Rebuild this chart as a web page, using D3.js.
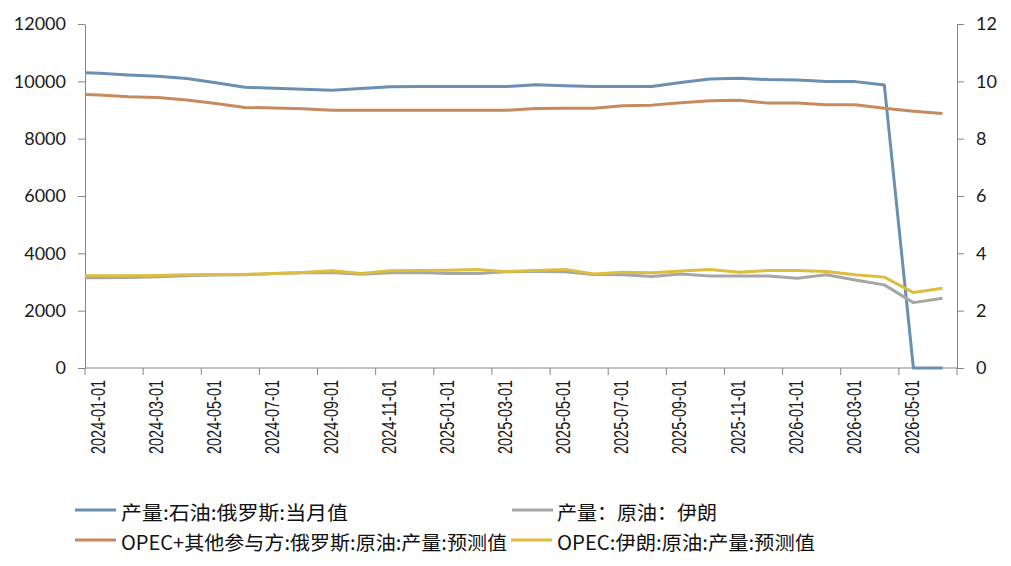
<!DOCTYPE html>
<html>
<head>
<meta charset="utf-8">
<script src="https://cdn.jsdelivr.net/npm/d3@7"></script>
<style>
  html, body { margin: 0; padding: 0; background: #fff; }
  svg { display: block; }
</style>
</head>
<body>
<svg id="chart" width="1011" height="566"></svg>
<script>
// ---- data (2023-12 point lies just left of the plot edge and is clipped) ----
const dates = [
  "2023-12-01",
  "2024-01-01","2024-02-01","2024-03-01","2024-04-01","2024-05-01","2024-06-01",
  "2024-07-01","2024-08-01","2024-09-01","2024-10-01","2024-11-01","2024-12-01",
  "2025-01-01","2025-02-01","2025-03-01","2025-04-01","2025-05-01","2025-06-01",
  "2025-07-01","2025-08-01","2025-09-01","2025-10-01","2025-11-01","2025-12-01",
  "2026-01-01","2026-02-01","2026-03-01","2026-04-01","2026-05-01","2026-06-01"
];
const axisCategories = dates.slice(1);
const tickLabels = axisCategories.filter((d, i) => i % 2 === 0);

const russiaOutput = [10320,
  10280,10220,10180,10100,9950,9790, 9760,9720,9690,9750,9810,9820,
  9820,9820,9820,9880,9850,9820, 9820,9820,9960,10080,10110,10060,
  10050,9990,9990,9870,0,0];
const russiaForecast = [9560,
  9520,9460,9440,9350,9230,9090, 9070,9040,8990,8990,8990,8990,
  8990,8990,8990,9050,9060,9060, 9150,9170,9250,9320,9340,9240,
  9240,9180,9180,9060,8960,8880];
const iranOutput = [3.15,
  3.15,3.16,3.18,3.22,3.24,3.25, 3.30,3.32,3.33,3.27,3.32,3.33,
  3.30,3.30,3.36,3.37,3.36,3.26, 3.25,3.19,3.28,3.21,3.21,3.21,
  3.13,3.25,3.07,2.90,2.28,2.43];
const iranForecast = [3.22,
  3.22,3.22,3.23,3.25,3.26,3.26, 3.30,3.33,3.39,3.30,3.39,3.40,
  3.41,3.44,3.36,3.40,3.44,3.28, 3.34,3.32,3.38,3.44,3.34,3.40,
  3.40,3.37,3.25,3.17,2.63,2.78];

const leftTicks = [0,2000,4000,6000,8000,10000,12000];
const rightTicks = [0,2,4,6,8,10,12];

const seriesNames = [
  "产量:石油:俄罗斯:当月值",
  "产量：原油：伊朗",
  "OPEC+其他参与方:俄罗斯:原油:产量:预测值",
  "OPEC:伊朗:原油:产量:预测值"
];
const colors = ["#6a8fb1", "#a6a6a6", "#c68a5e", "#dcbd3e"];

(function () {
// ---- layout ----
const svg = d3.select("#chart");
const pLeft = 85, pRight = 957, pTop = 24, pBottom = 368;

const band = d3.scaleBand().domain(axisCategories).range([pLeft, pRight]).padding(0);
const step = band.step();
const x = d3.scalePoint().domain(dates).range([pLeft + step/2 - step, pRight - step/2]);
const yL = d3.scaleLinear().domain([0, 12000]).range([pBottom, pTop]);
const yR = d3.scaleLinear().domain([0, 12]).range([pBottom, pTop]);

svg.append("defs").append("clipPath").attr("id", "plotclip")
  .append("rect").attr("x", pLeft).attr("y", 0).attr("width", pRight - pLeft).attr("height", pBottom + 5);

const axisColor = "#868686";
const numFont = "Lato, 'Liberation Sans', sans-serif";

// left axis
const gL = svg.append("g").attr("transform", `translate(${pLeft},0)`)
  .call(d3.axisLeft(yL).tickValues(leftTicks).tickSize(7).tickSizeOuter(0).tickPadding(12).tickFormat(d3.format("d")));
gL.select(".domain").attr("stroke", axisColor);
gL.selectAll(".tick line").attr("stroke", axisColor);
gL.selectAll(".tick text").attr("font-family", numFont).attr("font-size", 18).attr("fill", "#1a1a1a");

// right axis
const gR = svg.append("g").attr("transform", `translate(${pRight},0)`)
  .call(d3.axisRight(yR).tickValues(rightTicks).tickSize(7).tickSizeOuter(0).tickPadding(12).tickFormat(d3.format("d")));
gR.select(".domain").attr("stroke", axisColor);
gR.selectAll(".tick line").attr("stroke", axisColor);
gR.selectAll(".tick text").attr("font-family", numFont).attr("font-size", 18).attr("fill", "#1a1a1a");

// bottom axis: tick marks at every second category boundary
const gB = svg.append("g").attr("transform", `translate(0,${pBottom})`);
gB.append("line").attr("x1", pLeft).attr("x2", pRight).attr("y1", 0).attr("y2", 0).attr("stroke", axisColor);
const boundaryTicks = tickLabels.map(d => band(d)).concat([pRight]);
gB.selectAll("line.tk").data(boundaryTicks).join("line").attr("class", "tk")
  .attr("x1", d => d).attr("x2", d => d).attr("y1", 0).attr("y2", 7).attr("stroke", axisColor);
gB.selectAll("text.lab").data(tickLabels).join("text").attr("class", "lab")
  .attr("transform", d => `translate(${band(d) + step/2 - 2},12) rotate(-90)`)
  .attr("text-anchor", "end").attr("dominant-baseline", "central")
  .attr("font-family", "'Liberation Sans', Arial, sans-serif").attr("font-size", 21).attr("fill", "#1a1a1a")
  .attr("textLength", 74).attr("lengthAdjust", "spacingAndGlyphs")
  .text(d => d);

// lines
const plot = svg.append("g").attr("clip-path", "url(#plotclip)");
const lineL = d3.line().x((d, i) => x(dates[i])).y(d => yL(d));
const lineR = d3.line().x((d, i) => x(dates[i])).y(d => yR(d));
const draw = (data, gen, color) => plot.append("path").datum(data)
  .attr("d", gen).attr("fill", "none").attr("stroke", color)
  .attr("stroke-width", 3).attr("stroke-linejoin", "round").attr("stroke-linecap", "butt");
draw(russiaOutput, lineL, colors[0]);
draw(russiaForecast, lineL, colors[2]);
draw(iranOutput, lineR, colors[1]);
draw(iranForecast, lineR, colors[3]);

// legend
const legendItems = [
  {name: seriesNames[0], color: colors[0], lx: 75, tx: 121, y: 510, len: 227},
  {name: seriesNames[1], color: colors[1], lx: 512, tx: 557, y: 510, len: 160},
  {name: seriesNames[2], color: colors[2], lx: 75, tx: 121, y: 540, len: 386},
  {name: seriesNames[3], color: colors[3], lx: 511, tx: 557, y: 540, len: 258}
];
const lg = svg.append("g");
legendItems.forEach(it => {
  lg.append("line").attr("x1", it.lx).attr("x2", it.lx + 41).attr("y1", it.y).attr("y2", it.y)
    .attr("stroke", it.color).attr("stroke-width", 3);
  lg.append("text").attr("x", it.tx).attr("y", it.y + 1).attr("dominant-baseline", "central")
    .attr("font-family", "'Noto Sans CJK SC', 'Noto Sans', sans-serif").attr("font-size", 19.5)
    .attr("fill", "#111").attr("textLength", it.len).attr("lengthAdjust", "spacingAndGlyphs")
    .text(it.name);
});
})();
</script>
</body>
</html>
